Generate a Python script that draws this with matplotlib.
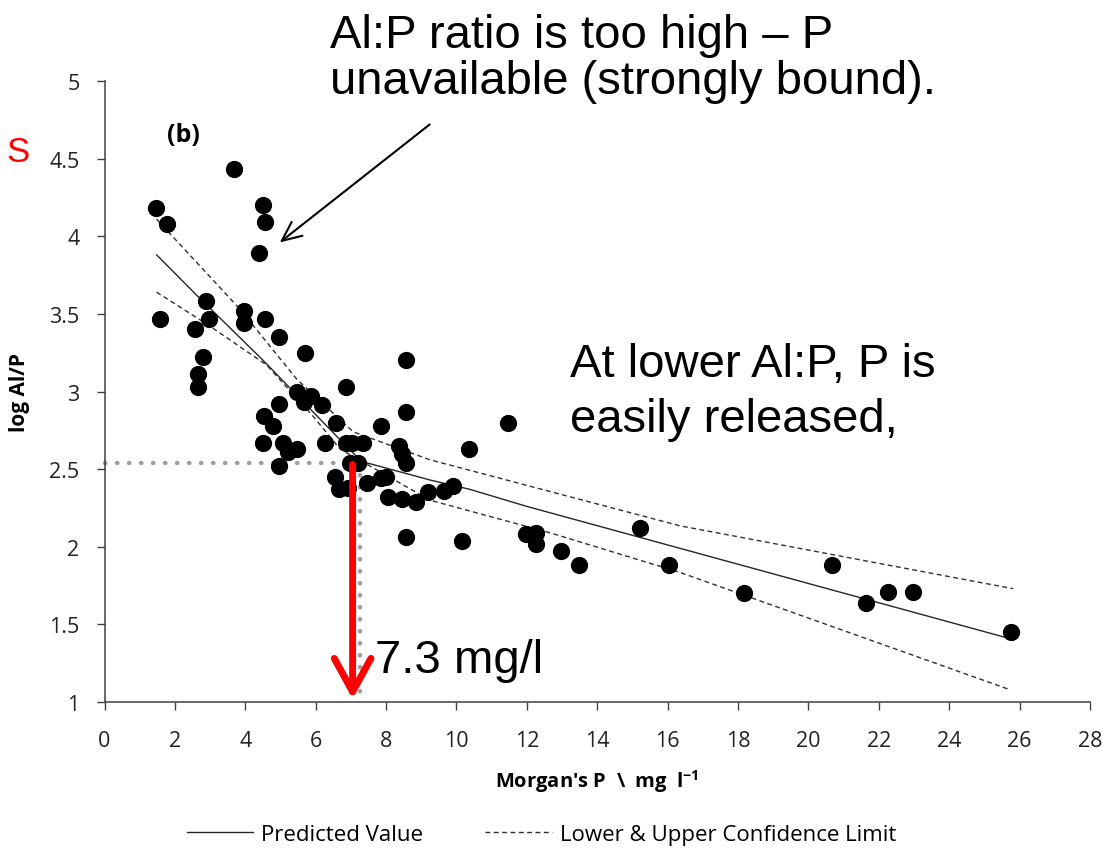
import matplotlib
matplotlib.use("Agg")
import matplotlib.pyplot as plt
from matplotlib.lines import Line2D

# scatter data: Morgan's P (mg/l) vs log Al/P
morgan_p = [1.46, 1.77, 1.57, 3.69, 4.49, 4.56, 4.38, 2.88, 2.98, 2.57,
            2.79, 2.66, 2.66, 3.97, 3.97, 4.56, 4.97, 5.69, 8.56, 6.86,
            5.46, 5.88, 5.67, 6.17, 4.97, 4.54, 4.78, 6.57, 7.87, 8.56,
            11.47, 4.49, 5.08, 5.47, 5.20, 4.97, 6.26, 6.86, 7.02, 7.35,
            8.38, 8.44, 8.56, 6.97, 7.21, 10.36, 6.56, 6.67, 6.93, 7.45,
            7.87, 8.01, 8.06, 8.44, 8.85, 9.20, 9.64, 9.89, 8.56, 10.16,
            11.99, 12.26, 12.26, 12.97, 13.48, 15.21, 16.04, 18.16, 20.66, 21.65,
            22.27, 22.96, 25.77]
log_alp = [4.18, 4.08, 3.47, 4.43, 4.20, 4.09, 3.89, 3.58, 3.47, 3.40,
           3.22, 3.11, 3.03, 3.52, 3.44, 3.47, 3.35, 3.25, 3.20, 3.03,
           3.00, 2.97, 2.93, 2.91, 2.92, 2.84, 2.78, 2.80, 2.78, 2.87,
           2.80, 2.67, 2.67, 2.63, 2.61, 2.52, 2.67, 2.67, 2.67, 2.67,
           2.65, 2.60, 2.54, 2.54, 2.54, 2.63, 2.45, 2.37, 2.38, 2.41,
           2.44, 2.45, 2.32, 2.31, 2.29, 2.35, 2.36, 2.39, 2.06, 2.04,
           2.08, 2.09, 2.02, 1.97, 1.88, 2.12, 1.88, 1.70, 1.88, 1.64,
           1.71, 1.71, 1.45]

# fitted line and confidence limits
pred_x = [1.48, 2.62, 4.51, 6.69, 7.3, 9.25, 10.38, 12.0, 16.35, 25.7]
pred_y = [3.88, 3.62, 3.20, 2.69, 2.55, 2.43, 2.37, 2.26, 1.99, 1.41]
upper_x = [1.48, 3.85, 5.46, 7.07, 9.25, 16.35, 25.82]
upper_y = [4.11, 3.53, 3.08, 2.74, 2.56, 2.135, 1.73]
lower_x = [1.48, 3.0, 4.61, 5.93, 6.69, 9.25, 12.66, 16.35, 25.72]
lower_y = [3.64, 3.42, 3.17, 2.84, 2.63, 2.30, 2.09, 1.835, 1.08]

# threshold read-off
thresh_x = 7.27
thresh_y = 2.54

x_ticks = list(range(0, 29, 2))
y_ticks = [1, 1.5, 2, 2.5, 3, 3.5, 4, 4.5, 5]
y_tick_labels = ["1", "1.5", "2", "2.5", "3", "3.5", "4", "4.5", "5"]

tick_font = "Open Sans"
big_font = "Liberation Sans"

fig = plt.figure(figsize=(11.07, 8.53), dpi=100)
ax = fig.add_axes([0.0944, 0.1758, 0.8902, 0.7281])

ax.plot(pred_x, pred_y, color="#262626", lw=1.0)
ax.plot(upper_x, upper_y, color="#303030", lw=1.0, dashes=(3.5, 2.5))
ax.plot(lower_x, lower_y, color="#303030", lw=1.0, dashes=(3.5, 2.5))
ax.scatter(morgan_p, log_alp, s=130, color="black", zorder=3)

# grey dotted guide lines
ax.plot([0, thresh_x], [thresh_y, thresh_y], color="#a0a0a0", lw=3.2,
        linestyle=(0, (0.1, 2.6)), dash_capstyle="round", zorder=2, clip_on=False)
ax.plot([thresh_x, thresh_x], [thresh_y, 1.0], color="#a0a0a0", lw=3.2,
        linestyle=(0, (0.1, 2.6)), dash_capstyle="round", zorder=2, clip_on=False)

# red arrow
ax.annotate("", xy=(7.05, 1.02), xytext=(7.05, thresh_y - 0.01),
            arrowprops=dict(arrowstyle="->,head_length=1.0,head_width=0.55",
                            color="red", lw=5, mutation_scale=24,
                            shrinkA=0, shrinkB=0), zorder=4)

# black pointer arrow
ax.annotate("", xy=(4.98, 3.96), xytext=(9.24, 4.72),
            arrowprops=dict(arrowstyle="->,head_length=1.0,head_width=0.45",
                            color="black", lw=1.5, mutation_scale=14,
                            shrinkA=0, shrinkB=0), annotation_clip=False)

ax.set_xlim(0, 28)
ax.set_ylim(1, 5)
ax.set_xticks(x_ticks)
ax.set_yticks(y_ticks)
ax.set_yticklabels(y_tick_labels)
for s in ["top", "right"]:
    ax.spines[s].set_visible(False)
for s in ["left", "bottom"]:
    ax.spines[s].set_color("#404040")
    ax.spines[s].set_linewidth(1.1)
ax.tick_params(axis="both", direction="out", length=6, width=1.0, color="#404040")
ax.tick_params(axis="y", pad=12)
ax.tick_params(axis="x", pad=14)
for lab in ax.get_xticklabels() + ax.get_yticklabels():
    lab.set_fontfamily(tick_font)
    lab.set_fontsize(15.5)
    lab.set_color("#222222")

ax.set_xlabel(r"Morgan's P  \  mg  l$^{\mathregular{-1}}$", fontfamily=tick_font,
              fontweight="bold", fontsize=14.5, labelpad=12)
ax.set_ylabel("log Al/P", fontfamily=tick_font, fontweight="bold", fontsize=15,
              labelpad=14)

# texts on the figure
fig.text(330 / 1107, 1 - 14 / 853, "Al:P ratio is too high \u2013 P\nunavailable (strongly bound).",
         fontfamily=big_font, fontsize=34, ha="left", va="top", linespacing=1.05)
fig.text(570 / 1107, 1 - 343 / 853, "At lower Al:P, P is\neasily released,",
         fontfamily=big_font, fontsize=34, ha="left", va="top", linespacing=1.32)
fig.text(375 / 1107, 1 - 661 / 853, "7.3 mg/l", fontfamily=big_font, fontsize=34,
         ha="left", va="center")
fig.text(18 / 1107, 1 - 153 / 853, "S", fontfamily=big_font, fontsize=25,
         color="red", ha="center", va="center")
fig.text(183 / 1107, 1 - 136 / 853, "(b)", fontfamily=tick_font, fontweight="bold",
         fontsize=18, ha="center", va="center")

handles = [Line2D([], [], color="#262626", lw=1.0),
           Line2D([], [], color="#303030", lw=1.0, dashes=(3.5, 2.5))]
fig.legend(handles, ["Predicted Value", "Lower & Upper Confidence Limit"],
           loc="center", bbox_to_anchor=(0.489, 0.021), ncol=2, frameon=False,
           prop={"family": tick_font, "size": 16}, handlelength=3.0,
           handletextpad=0.35, columnspacing=2.8)

fig.savefig("out.png", dpi=100)
